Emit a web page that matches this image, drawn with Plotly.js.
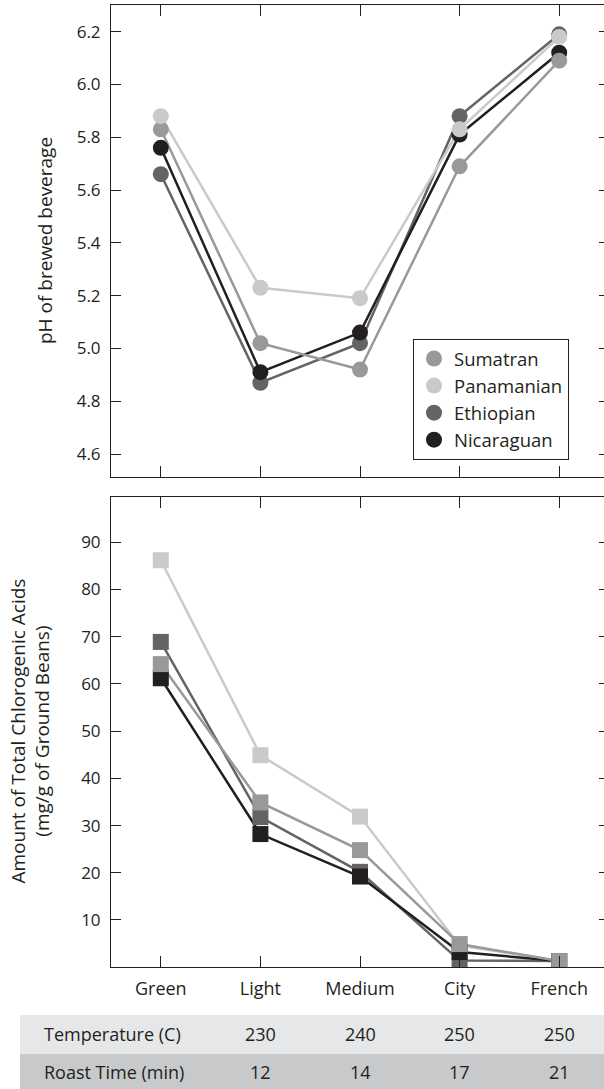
<!DOCTYPE html>
<html>
<head>
<meta charset="utf-8">
<script src="https://cdn.plot.ly/plotly-3.0.1.min.js"></script>
<style>
html, body { margin: 0; padding: 0; overflow: hidden; background: #fff; }
#chart { width: 610px; height: 1089px; }
</style>
</head>
<body>
<div id="chart"></div>
<script>
// ---- data ----
const categories = ['Green', 'Light', 'Medium', 'City', 'French'];
const seriesNames = ['Sumatran', 'Panamanian', 'Ethiopian', 'Nicaraguan'];

const phSumatran   = [5.83, 5.02, 4.92, 5.69, 6.09];
const phPanamanian = [5.88, 5.23, 5.19, 5.83, 6.18];
const phEthiopian  = [5.66, 4.87, 5.02, 5.88, 6.19];
const phNicaraguan = [5.76, 4.91, 5.06, 5.81, 6.12];

const cgaSumatran   = [64.2, 34.9, 24.8, 4.9, 1.3];
const cgaPanamanian = [86.2, 44.9, 31.9, 4.6, 1.3];
const cgaEthiopian  = [68.9, 31.8, 20.2, 1.4, 1.3];
const cgaNicaraguan = [61.2, 28.2, 19.2, 3.2, 1.3];

const tableCategories = ['Light', 'Medium', 'City', 'French'];
const temperatureLabel = 'Temperature (C)';
const temperatures = [230, 240, 250, 250];
const roastTimeLabel = 'Roast Time (min)';
const roastTimes = [12, 14, 17, 21];

const phTicks = [4.6, 4.8, 5.0, 5.2, 5.4, 5.6, 5.8, 6.0, 6.2];
const cgaTicks = [10, 20, 30, 40, 50, 60, 70, 80, 90];

// ---- styles ----
const colors = {
  Sumatran: '#98999b',
  Panamanian: '#c9cacc',
  Ethiopian: '#636466',
  Nicaraguan: '#231f20'
};
const ink = '#231f20';
const FONT = 'Open Sans, Noto Sans, sans-serif';

const phData = { Sumatran: phSumatran, Panamanian: phPanamanian, Ethiopian: phEthiopian, Nicaraguan: phNicaraguan };
const cgaData = { Sumatran: cgaSumatran, Panamanian: cgaPanamanian, Ethiopian: cgaEthiopian, Nicaraguan: cgaNicaraguan };

const topOrder = ['Ethiopian', 'Nicaraguan', 'Sumatran', 'Panamanian'];
const bottomOrder = ['Ethiopian', 'Panamanian', 'Nicaraguan', 'Sumatran'];

const traces = [];
// top panel lines
topOrder.forEach(n => traces.push({
  type: 'scatter', mode: 'lines', x: categories, y: phData[n],
  xaxis: 'x2', yaxis: 'y2', showlegend: false, hoverinfo: 'skip',
  line: { color: colors[n], width: 2.5 }
}));
// top panel markers (legend)
topOrder.forEach(n => traces.push({
  type: 'scatter', mode: 'markers', x: categories, y: phData[n], name: n,
  xaxis: 'x2', yaxis: 'y2', showlegend: true,
  legendrank: seriesNames.indexOf(n) + 1,
  marker: { color: colors[n], size: 16, symbol: 'circle' }
}));
// bottom panel lines
bottomOrder.forEach(n => traces.push({
  type: 'scatter', mode: 'lines', x: categories, y: cgaData[n],
  xaxis: 'x', yaxis: 'y', showlegend: false, hoverinfo: 'skip',
  line: { color: colors[n], width: 2.5 }
}));
// bottom panel markers
bottomOrder.forEach(n => traces.push({
  type: 'scatter', mode: 'markers', x: categories, y: cgaData[n], name: n,
  xaxis: 'x', yaxis: 'y', showlegend: false,
  marker: { color: colors[n], size: 16, symbol: 'square' }
}));

// ---- geometry helpers (paper coords) ----
const L = 111, T = 5, W = 498, H = 962;
const px = v => (v - L) / W;
const py = v => (T + H - v) / H;

const axisCommon = {
  showline: true, linecolor: ink, linewidth: 1, mirror: 'ticks',
  ticks: 'inside', tickcolor: ink, tickwidth: 1,
  showgrid: false, zeroline: false,
  tickfont: { family: FONT, size: 17, color: ink }
};

const shapes = [
  { type: 'rect', xref: 'paper', yref: 'paper', x0: px(20), x1: px(640), y0: py(1054), y1: py(1015),
    fillcolor: '#e6e7e8', line: { width: 0 }, layer: 'below' },
  { type: 'rect', xref: 'paper', yref: 'paper', x0: px(20), x1: px(640), y0: py(1100), y1: py(1054),
    fillcolor: '#c8c9cb', line: { width: 0 }, layer: 'below' }
];

const annotations = [
  { text: 'pH of brewed beverage', xref: 'paper', yref: 'paper', x: px(45), y: py(241),
    textangle: -90, showarrow: false, xanchor: 'center', yanchor: 'middle',
    font: { family: FONT, size: 19, color: ink } },
  { text: 'Amount of Total Chlorogenic Acids<br>(mg/g of Ground Beans)', xref: 'paper', yref: 'paper',
    x: px(30), y: py(731.5), textangle: -90, showarrow: false, xanchor: 'center', yanchor: 'middle',
    font: { family: FONT, size: 19, color: ink } },
  { text: temperatureLabel, xref: 'paper', yref: 'paper', x: px(42), y: py(1034),
    showarrow: false, xanchor: 'left', yanchor: 'middle', font: { family: FONT, size: 18, color: ink } },
  { text: roastTimeLabel, xref: 'paper', yref: 'paper', x: px(42), y: py(1072),
    showarrow: false, xanchor: 'left', yanchor: 'middle', font: { family: FONT, size: 18, color: ink } }
];
tableCategories.forEach((c, i) => {
  annotations.push({ text: String(temperatures[i]), xref: 'x', yref: 'paper', x: c, y: py(1034),
    showarrow: false, xanchor: 'center', yanchor: 'middle', font: { family: FONT, size: 18, color: ink } });
  annotations.push({ text: String(roastTimes[i]), xref: 'x', yref: 'paper', x: c, y: py(1072),
    showarrow: false, xanchor: 'center', yanchor: 'middle', font: { family: FONT, size: 18, color: ink } });
});

const layout = {
  width: 610, height: 1089,
  margin: { l: L, r: 1, t: T, b: 1089 - T - H },
  paper_bgcolor: '#ffffff', plot_bgcolor: '#ffffff',
  font: { family: FONT, color: ink },
  showlegend: true,
  legend: {
    x: px(413), y: py(339), xanchor: 'left', yanchor: 'top',
    bordercolor: ink, borderwidth: 1, bgcolor: '#ffffff',
    font: { family: FONT, size: 18.5, color: ink },
    traceorder: 'normal', itemwidth: 30
  },
  xaxis: Object.assign({}, axisCommon, {
    domain: [0, 1], anchor: 'y', type: 'category', categoryorder: 'array', categoryarray: categories,
    range: [-0.5, 4.5], ticklen: 11, ticklabelstandoff: 5,
    tickfont: { family: FONT, size: 18, color: ink }
  }),
  yaxis: Object.assign({}, axisCommon, {
    domain: [0, py(496.5)], anchor: 'x', range: [0.04, 99.7],
    tickmode: 'array', tickvals: cgaTicks, ticktext: cgaTicks.map(String), ticklen: 10, ticklabelstandoff: 6
  }),
  xaxis2: Object.assign({}, axisCommon, {
    domain: [0, 1], anchor: 'y2', type: 'category', categoryorder: 'array', categoryarray: categories,
    range: [-0.5, 4.5], ticklen: 11, showticklabels: false
  }),
  yaxis2: Object.assign({}, axisCommon, {
    domain: [py(477), 1], anchor: 'x2', range: [4.513, 6.301],
    tickmode: 'array', tickvals: phTicks, ticktext: phTicks.map(v => v.toFixed(1)), ticklen: 10, ticklabelstandoff: 6
  }),
  shapes: shapes,
  annotations: annotations
};

Plotly.newPlot('chart', traces, layout, { displayModeBar: false, staticPlot: true });
</script>
</body>
</html>
